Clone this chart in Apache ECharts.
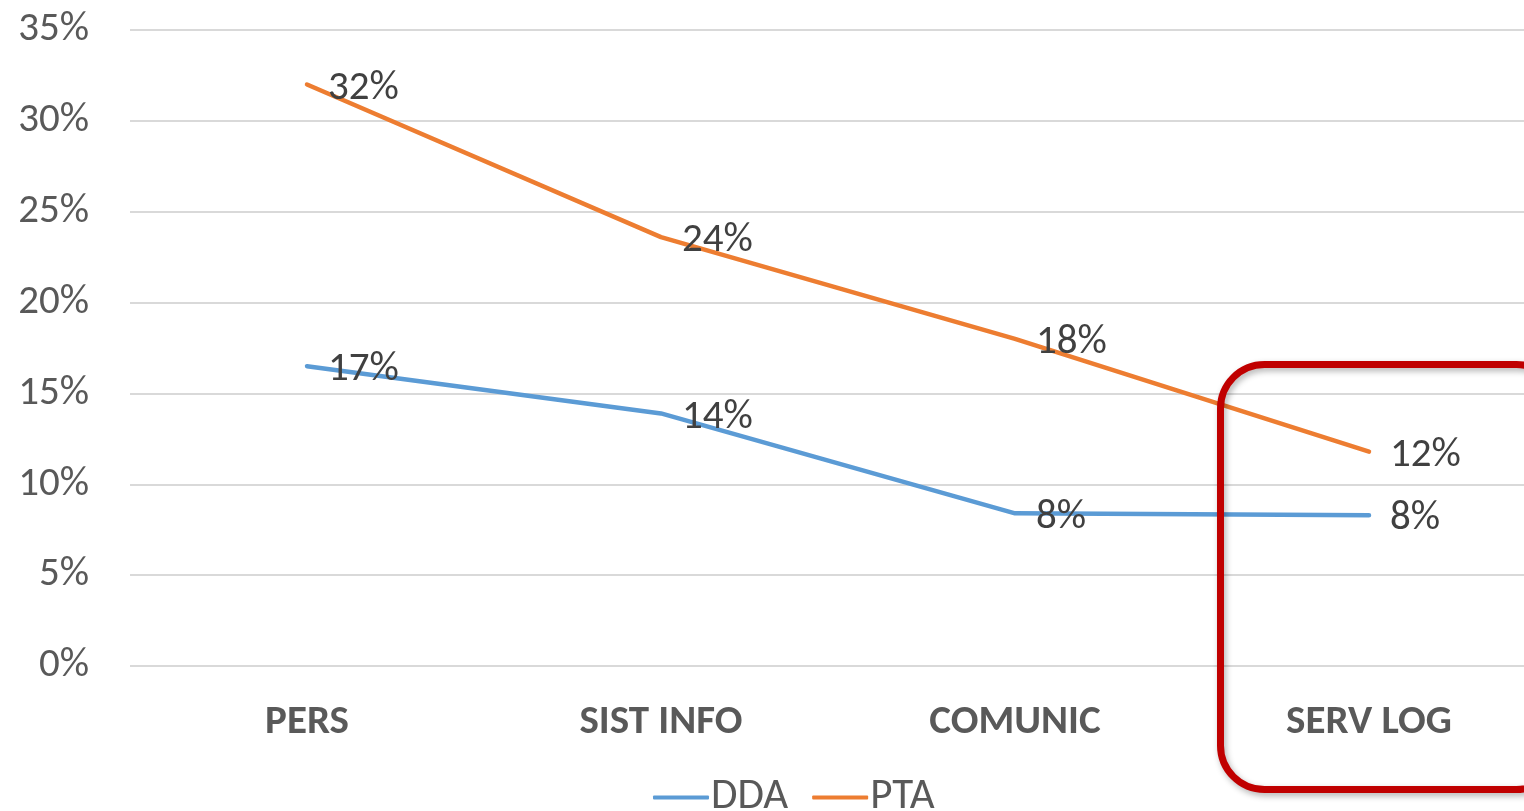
<!DOCTYPE html>
<html>
<head>
<meta charset="utf-8">
<title>DDA / PTA</title>
<script src="https://cdn.jsdelivr.net/npm/echarts@6/dist/echarts.min.js"></script>
<style>
  html, body { margin: 0; padding: 0; background: #fff; }
  #main { width: 1524px; height: 811px; }
</style>
</head>
<body>
<div id="main"></div>
<script>
// dati (percentuali)
var categories = ['PERS', 'SIST INFO', 'COMUNIC', 'SERV LOG'];
var ddaValues = [16.5, 13.9, 8.4, 8.3];
var ptaValues = [32.0, 23.6, 18.0, 11.8];
var yTicks = [0, 5, 10, 15, 20, 25, 30, 35];

var font = 'Carlito, Lato, "Open Sans", sans-serif';

var chart = echarts.init(document.getElementById('main'));

var labelStyle = {
  show: true,
  position: 'right',
  distance: 20,
  offset: [0, 4],
  color: '#404040',
  fontSize: 41,
  fontFamily: font,
  formatter: function (p) {
    return Math.round(p.value) + '%';
  }
};

var option = {
  animation: false,
  grid: {
    left: 130,
    top: 30,
    width: 1416,
    bottom: 145,
    outerBoundsMode: 'none',
    containLabel: false
  },
  legend: {
    bottom: -13,
    left: 648,
    itemWidth: 56,
    itemHeight: 4,
    itemGap: 24,
    icon: 'roundRect',
    textStyle: { color: '#595959', fontSize: 43, fontFamily: font, padding: [0, 0, 0, -3] },
    data: ['DDA', 'PTA']
  },
  xAxis: {
    type: 'category',
    data: categories,
    boundaryGap: true,
    axisLine: { show: false },
    axisTick: { show: false },
    axisLabel: {
      margin: 36,
      color: '#595959',
      fontSize: 41,
      fontWeight: 'bold',
      fontFamily: font
    }
  },
  yAxis: {
    type: 'value',
    min: yTicks[0],
    max: yTicks[yTicks.length - 1],
    interval: 5,
    axisLine: { show: false },
    axisTick: { show: false },
    axisLabel: {
      margin: 41,
      color: '#595959',
      fontSize: 41,
      fontFamily: font,
      formatter: '{value}%'
    },
    splitLine: { lineStyle: { color: '#D9D9D9', width: 2 } }
  },
  series: [
    {
      name: 'DDA',
      type: 'line',
      data: ddaValues,
      symbol: 'circle',
      symbolSize: 2,
      showSymbol: true,
      color: '#5B9BD5',
      lineStyle: { width: 4.5, cap: 'round', join: 'round' },
      label: labelStyle
    },
    {
      name: 'PTA',
      type: 'line',
      data: ptaValues,
      symbol: 'circle',
      symbolSize: 2,
      showSymbol: true,
      color: '#ED7D31',
      lineStyle: { width: 4.5, cap: 'round', join: 'round' },
      label: labelStyle
    }
  ],
  // riquadro rosso di evidenziazione su SERV LOG
  graphic: [
    {
      type: 'rect',
      left: 1217,
      top: 361,
      shape: { width: 340, height: 425, r: 44 },
      style: {
        fill: 'none',
        stroke: '#C00000',
        lineWidth: 7,
        shadowBlur: 6,
        shadowOffsetX: 2,
        shadowOffsetY: 3,
        shadowColor: 'rgba(0,0,0,0.3)'
      },
      z: 100
    }
  ]
};

chart.setOption(option);
</script>
</body>
</html>
